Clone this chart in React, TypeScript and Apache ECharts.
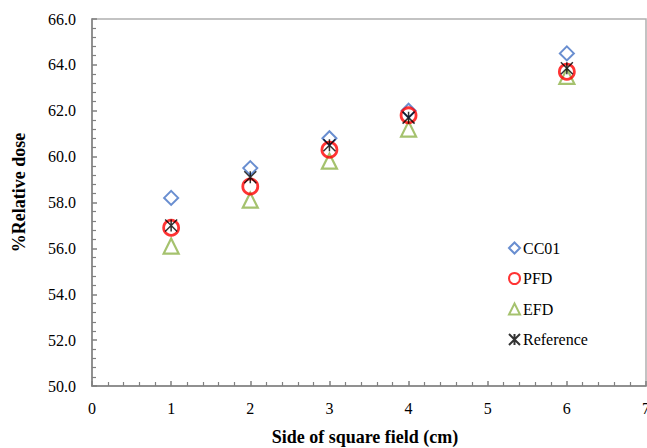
import React, { useEffect, useRef } from "react";
import * as echarts from "echarts";

const xValues = [1, 2, 3, 4, 6];
const cc01 = [58.2, 59.5, 60.8, 62.0, 64.5];
const pfd = [56.9, 58.7, 60.3, 61.8, 63.7];
const efd = [56.1, 58.1, 59.8, 61.2, 63.5];
const reference = [57.0, 59.1, 60.5, 61.7, 63.85];

const FONT = "'Liberation Serif', 'Times New Roman', serif";
const STAR = "path://M0,0L10,10M10,0L0,10M5,0L5,10";

export default function App() {
  const ref = useRef<HTMLDivElement>(null);
  useEffect(() => {
    if (!ref.current) return;
    const chart = echarts.init(ref.current, null, { renderer: "svg" });
    const pts = (ys: number[]) => xValues.map((x, i) => [x, ys[i]]);
    chart.setOption({
      animation: false,
      textStyle: { fontFamily: FONT },
      grid: {
        left: 92, top: 19, right: 1, bottom: 62,
        outerBoundsMode: "none", containLabel: false,
        show: true, borderColor: "#b0b0b0", borderWidth: 1.5,
      },
      legend: {
        orient: "vertical",
        left: 503,
        top: 235,
        itemGap: 14.5,
        itemWidth: 11,
        itemHeight: 11,
        textStyle: { fontFamily: FONT, fontSize: 16, color: "#000", padding: [0, 0, 0, -2] },
        data: ["CC01", "PFD", "EFD", "Reference"],
      },
      xAxis: {
        type: "value",
        min: 0,
        max: 7,
        interval: 1,
        name: "Side of square field (cm)",
        nameLocation: "middle",
        nameGap: 42,
        nameTextStyle: { fontFamily: FONT, fontSize: 18, fontWeight: "bold", color: "#000", padding: [0, 8, 0, 0] },
        axisLine: { lineStyle: { color: "#808080", width: 1.5 } },
        axisTick: { inside: true, length: 5, lineStyle: { color: "#808080", width: 1.5 } },
        minorTick: { show: true, splitNumber: 5, length: 4, lineStyle: { color: "#808080", width: 1.2 } },
        axisLabel: { fontFamily: FONT, fontSize: 16, color: "#000", margin: 14 },
        splitLine: { show: false },
      },
      yAxis: {
        type: "value",
        min: 50,
        max: 66,
        interval: 2,
        name: "%Relative dose",
        nameLocation: "middle",
        nameGap: 64,
        nameTextStyle: { fontFamily: FONT, fontSize: 18, fontWeight: "bold", color: "#000", padding: [0, 0, 0, 20] },
        axisLine: { show: true, lineStyle: { color: "#808080", width: 1.5 } },
        axisTick: { show: true, inside: true, length: 5, lineStyle: { color: "#808080", width: 1.5 } },
        minorTick: { show: true, splitNumber: 5, length: 4, lineStyle: { color: "#808080", width: 1.2 } },
        axisLabel: { fontFamily: FONT, fontSize: 16, color: "#000", margin: 16, formatter: (v: number) => v.toFixed(1) },
        splitLine: { show: false },
      },
      series: [
        {
          name: "CC01",
          type: "scatter",
          data: pts(cc01),
          symbol: "diamond",
          symbolSize: 14,
          itemStyle: { color: "#fff", borderColor: "#4472C4", borderWidth: 2 },
          z: 2,
        },
        {
          name: "PFD",
          type: "scatter",
          data: pts(pfd),
          symbol: "circle",
          symbolSize: 15,
          itemStyle: { color: "rgba(255,255,255,0)", borderColor: "#FF0000", borderWidth: 2.8 },
          z: 3,
        },
        {
          name: "EFD",
          type: "scatter",
          data: pts(efd),
          symbol: "triangle",
          symbolSize: 15,
          itemStyle: { color: "rgba(255,255,255,0)", borderColor: "#8FB34A", borderWidth: 2.2 },
          z: 2,
        },
        {
          name: "Reference",
          type: "scatter",
          data: pts(reference),
          symbol: STAR,
          symbolSize: 12,
          itemStyle: { color: "rgba(0,0,0,0)", borderColor: "#000", borderWidth: 1.5 },
          z: 4,
        },
      ],
    });
    return () => chart.dispose();
  }, []);
  return <div ref={ref} style={{ width: 647, height: 448, position: "absolute", left: 0, top: 0 }} />;
}
